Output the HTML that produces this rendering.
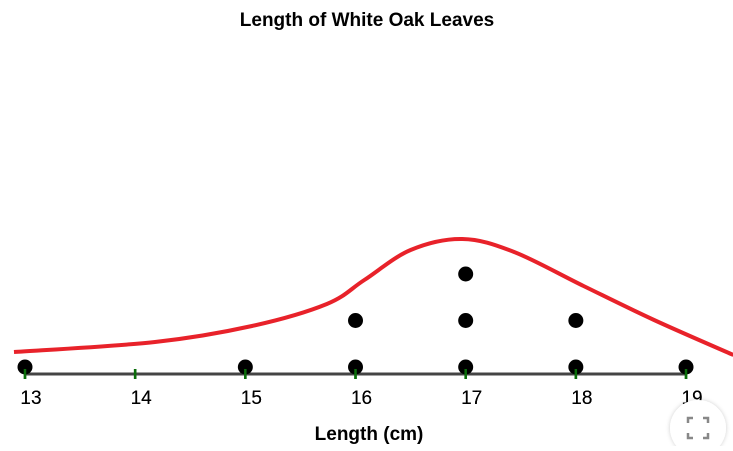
<!DOCTYPE html>
<html><head><meta charset="utf-8"><style>
body{margin:0;background:#fff;width:733px;height:446px;overflow:hidden;font-family:"Liberation Sans",Arial,sans-serif}
</style></head><body>
<svg id="chart" width="733" height="446" xmlns="http://www.w3.org/2000/svg">
<defs><filter id="sh" x="-30%" y="-30%" width="160%" height="160%"><feDropShadow dx="0" dy="0" stdDeviation="2" flood-color="#000" flood-opacity="0.2"/></filter></defs>
<text x="367" y="26" text-anchor="middle" font-size="19" font-weight="bold" font-family="Liberation Sans, sans-serif">Length of White Oak Leaves</text>
<g id="curve"></g>
<line x1="25" y1="374" x2="686" y2="374" stroke="#444" stroke-width="3"/>
<g id="ticks"></g>
<g id="dots"></g>
<text x="369" y="440" text-anchor="middle" font-size="19" font-weight="bold" font-family="Liberation Sans, sans-serif">Length (cm)</text>
<g>
<circle cx="698" cy="428" r="28" fill="#fff" filter="url(#sh)"/>
<path d="M688 423v-5h5 M703 418h5v5 M708 433v5h-5 M693 438h-5v-5" stroke="#888" stroke-width="2.5" fill="none"/>
</g>
</svg>
<script>
const tickValues=[13,14,15,16,17,18,19];
const dataValues=[13,15,16,16,17,17,17,18,18,19];
const curveX=[12.9,14.18,15.06,15.74,16.08,16.5,16.97,17.44,18.07,18.71,19.43];
const curveDensity=[0.055,0.08,0.12,0.175,0.235,0.31,0.3375,0.305,0.22,0.135,0.0475];
const NS="http://www.w3.org/2000/svg";
function xs(v){return 25+(v-13)*110.17;}
function ys(d){return 374-d*400;}
const tg=document.getElementById('ticks');
tickValues.forEach(t=>{
 const l=document.createElementNS(NS,'line');
 l.setAttribute('x1',xs(t));l.setAttribute('x2',xs(t));l.setAttribute('y1',369);l.setAttribute('y2',379);
 l.setAttribute('stroke','#0a6e0a');l.setAttribute('stroke-width',2.5);
 
 
 tg.appendChild(l);
 const tx=document.createElementNS(NS,'text');
 tx.setAttribute('x',xs(t)+6);tx.setAttribute('y',404);tx.setAttribute('text-anchor','middle');
 tx.setAttribute('font-size','19');tx.setAttribute('font-family','Liberation Sans, sans-serif');
 tx.textContent=t;
 
 
 tg.appendChild(tx);
});
const counts={};
const dg=document.getElementById('dots');
dataValues.forEach(v=>{
 counts[v]=(counts[v]||0)+1;
 const c=document.createElementNS(NS,'circle');
 c.setAttribute('cx',xs(v));c.setAttribute('cy',367-(counts[v]-1)*46.5);c.setAttribute('r',7.5);
 c.setAttribute('fill','#000');
 
 
 dg.appendChild(c);
});
dg.after(tg.cloneNode(true));
const pts=curveX.map((x,i)=>[xs(x),ys(curveDensity[i])]);
let d='M'+pts[0][0]+','+pts[0][1];
for(let i=0;i<pts.length-1;i++){
 const p0=pts[i-1]||pts[i],p1=pts[i],p2=pts[i+1],p3=pts[i+2]||p2;
 d+=' C'+(p1[0]+(p2[0]-p0[0])/6)+','+(p1[1]+(p2[1]-p0[1])/6)+' '+(p2[0]-(p3[0]-p1[0])/6)+','+(p2[1]-(p3[1]-p1[1])/6)+' '+p2[0]+','+p2[1];
}
const path=document.createElementNS(NS,'path');
path.setAttribute('d',d);path.setAttribute('fill','none');path.setAttribute('stroke','#e8222a');path.setAttribute('stroke-width',4);


document.getElementById('curve').appendChild(path);
</script>
</body></html>
